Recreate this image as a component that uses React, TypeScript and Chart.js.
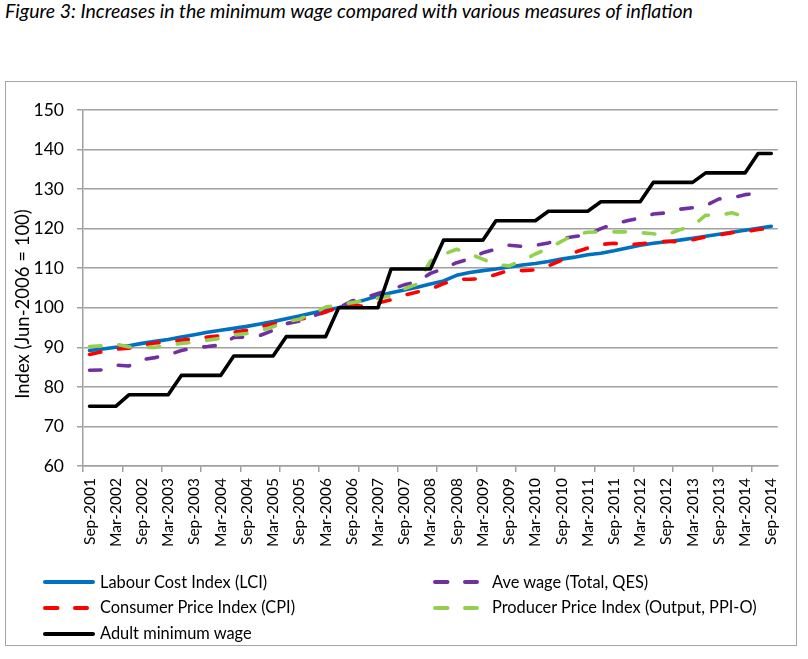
import React, { useEffect, useRef } from 'react';
import { Chart, registerables } from 'chart.js';

Chart.register(...registerables);

const quarters = [
  'Sep-2001', 'Dec-2001',
  'Mar-2002', 'Jun-2002', 'Sep-2002', 'Dec-2002',
  'Mar-2003', 'Jun-2003', 'Sep-2003', 'Dec-2003',
  'Mar-2004', 'Jun-2004', 'Sep-2004', 'Dec-2004',
  'Mar-2005', 'Jun-2005', 'Sep-2005', 'Dec-2005',
  'Mar-2006', 'Jun-2006', 'Sep-2006', 'Dec-2006',
  'Mar-2007', 'Jun-2007', 'Sep-2007', 'Dec-2007',
  'Mar-2008', 'Jun-2008', 'Sep-2008', 'Dec-2008',
  'Mar-2009', 'Jun-2009', 'Sep-2009', 'Dec-2009',
  'Mar-2010', 'Jun-2010', 'Sep-2010', 'Dec-2010',
  'Mar-2011', 'Jun-2011', 'Sep-2011', 'Dec-2011',
  'Mar-2012', 'Jun-2012', 'Sep-2012', 'Dec-2012',
  'Mar-2013', 'Jun-2013', 'Sep-2013', 'Dec-2013',
  'Mar-2014', 'Jun-2014', 'Sep-2014',
];

const lci = [
  89.2, 89.6, 90.0, 90.4, 91.0, 91.5, 92.0, 92.6, 93.2, 93.8,
  94.3, 94.8, 95.3, 95.9, 96.5, 97.2, 97.9, 98.7, 99.4, 100.0,
  101.1, 102.0, 103.0, 103.8, 104.5, 105.2, 106.0, 106.8, 108.2, 108.9,
  109.4, 109.8, 110.3, 110.8, 111.2, 111.7, 112.3, 112.8, 113.4, 113.8,
  114.4, 115.1, 115.8, 116.3, 116.7, 117.1, 117.6, 118.1, 118.6, 119.1,
  119.6, 120.1, 120.6,
];

const cpi = [
  88.2, 88.9, 89.5, 89.8, 90.5, 91.1, 91.4, 91.8, 92.2, 92.6,
  92.9, 93.8, 94.3, 95.2, 95.9, 96.6, 97.1, 97.7, 99.0, 100.0,
  100.6, 100.4, 101.2, 102.0, 103.2, 104.0, 104.7, 106.1, 107.2, 107.2,
  107.4, 108.4, 109.5, 109.4, 109.6, 110.6, 112.0, 114.0, 115.1, 116.0,
  116.3, 115.9, 116.2, 116.5, 116.8, 116.7, 117.2, 117.9, 118.4, 119.0,
  119.2, 119.8, 120.1,
];

const adultMinWage = [
  75.1, 75.1, 75.1, 78.0, 78.0, 78.0, 78.0, 82.9, 82.9, 82.9,
  82.9, 87.8, 87.8, 87.8, 87.8, 92.7, 92.7, 92.7, 92.7, 100.0,
  100.0, 100.0, 100.0, 109.8, 109.8, 109.8, 109.8, 117.1, 117.1, 117.1,
  117.1, 122.0, 122.0, 122.0, 122.0, 124.4, 124.4, 124.4, 124.4, 126.8,
  126.8, 126.8, 126.8, 131.7, 131.7, 131.7, 131.7, 134.1, 134.1, 134.1,
  134.1, 139.0, 139.0,
];

const aveWage = [
  84.2, 84.3, 85.5, 85.3, 86.9, 87.4, 88.1, 89.2, 89.9, 90.2,
  90.6, 92.5, 92.6, 93.0, 94.3, 96.0, 96.6, 97.9, 98.9, 100.0,
  101.7, 102.6, 103.6, 104.6, 105.8, 106.6, 108.7, 109.9, 111.4, 112.4,
  113.9, 114.8, 115.8, 115.5, 115.8, 116.4, 117.5, 118.0, 118.5, 120.0,
  121.2, 122.0, 122.7, 123.7, 124.0, 124.9, 125.3, 125.8, 127.5, 127.8,
  128.6, 129.0, null,
];

const ppi = [
  90.2, 90.4, 90.8, 90.1, 90.0, 90.0, 90.5, 91.0, 91.3, 91.8,
  92.3, 93.1, 93.5, 94.2, 95.2, 96.5, 97.1, 98.5, 100.2, 100.7,
  101.3, 101.8, 102.4, 103.0, 104.8, 106.0, 111.8, 113.5, 114.8, 113.6,
  112.3, 110.9, 110.6, 111.9, 113.6, 115.0, 116.8, 118.5, 119.1, 119.2,
  119.2, 119.2, 119.0, 118.7, 118.4, 119.7, 120.7, 123.4, 123.4, 124.0,
  123.0, null, null,
];

const yTicksMin = 60;
const yTicksMax = 150;
const yTickStep = 10;

const FONT = 'Lato, "Open Sans", sans-serif';
const GRID = '#a0a0a0';
const C_LCI = '#0070C0';
const C_CPI = '#FF0000';
const C_ADULT = '#000000';
const C_AVE = '#7030A0';
const C_PPI = '#92D050';
const DASH = [11.5, 18];
const Y_TITLE = 'Index (Jun-2006 = 100)';

const yTitlePlugin = {
  id: 'yTitlePlugin',
  afterDraw(chart: any) {
    const ctx = chart.ctx;
    ctx.save();
    ctx.translate(23.3, 222);
    ctx.rotate(-Math.PI / 2);
    ctx.font = `18.5px ${FONT}`;
    ctx.fillStyle = '#000';
    ctx.textAlign = 'center';
    ctx.textBaseline = 'alphabetic';
    ctx.fillText(Y_TITLE, 0, 0);
    ctx.restore();
  },
};

function LegendSample({ color, dashed }: { color: string; dashed: boolean }) {
  return (
    <svg width={60} height={10} style={{ position: 'absolute', left: 0, top: -5, overflow: 'visible' }}>
      <line
        x1={4}
        y1={5}
        x2={dashed ? 46 : 52}
        y2={5}
        stroke={color}
        strokeWidth={4}
        strokeLinecap="round"
        strokeDasharray={dashed ? '12.5 17.5' : undefined}
      />
    </svg>
  );
}

function LegendItem({ x, y, textLeft, color, dashed, label }: { x: number; y: number; textLeft: number; color: string; dashed: boolean; label: string }) {
  return (
    <div style={{ position: 'absolute', left: x, top: y, width: 400, height: 0 }}>
      <LegendSample color={color} dashed={dashed} />
      <div
        style={{
          position: 'absolute',
          left: textLeft,
          top: -10.5,
          fontFamily: FONT,
          fontSize: '16.4px',
          lineHeight: '20px',
          color: '#000',
          whiteSpace: 'nowrap',
        }}
      >
        {label}
      </div>
    </div>
  );
}

export default function App() {
  const canvasRef = useRef<HTMLCanvasElement | null>(null);

  useEffect(() => {
    if (!canvasRef.current) return;
    const chart = new Chart(canvasRef.current, {
      type: 'line',
      data: {
        labels: quarters,
        datasets: [
          { label: 'Labour Cost Index (LCI)', data: lci, borderColor: C_LCI, order: 5 },
          { label: 'Ave wage (Total, QES)', data: aveWage, borderColor: C_AVE, borderDash: DASH, order: 4 },
          { label: 'Consumer Price Index (CPI)', data: cpi, borderColor: C_CPI, borderDash: DASH, order: 3 },
          { label: 'Producer Price Index (Output, PPI-O)', data: ppi, borderColor: C_PPI, borderDash: DASH, order: 2 },
          { label: 'Adult minimum wage', data: adultMinWage, borderColor: C_ADULT, order: 1 },
        ].map((d: any) => ({
          ...d,
          borderWidth: 3.6,
          pointRadius: 0,
          pointHoverRadius: 0,
          tension: 0,
          fill: false,
          borderCapStyle: 'round',
          borderJoinStyle: 'round',
          spanGaps: false,
        })),
      },
      options: {
        animation: false,
        responsive: false,
        maintainAspectRatio: false,
        layout: { padding: { top: 28, right: 15, left: 0, bottom: 0 } },
        plugins: {
          legend: { display: false },
          title: { display: false },
          tooltip: { enabled: false },
        },
        events: [],
        scales: {
          x: {
            type: 'category',
            offset: true,
            grid: {
              offset: true,
              drawOnChartArea: false,
              drawTicks: true,
              tickLength: 6,
              lineWidth: 1.5,
              color: (c: any) => (c.index % 3 === 0 ? GRID : 'rgba(0,0,0,0)'),
              tickColor: (c: any) => (c.index % 3 === 0 ? GRID : 'rgba(0,0,0,0)'),
            },
            border: { display: true, color: GRID, width: 1.5 },
            ticks: {
              autoSkip: false,
              minRotation: 90,
              maxRotation: 90,
              padding: 6,
              color: '#000',
              font: { family: FONT, size: 15.5 },
              callback: (_v: any, i: number) => (i % 2 === 0 ? quarters[i] : ''),
            },
            afterFit: (s: any) => {
              s.height = 179;
            },
          },
          y: {
            min: yTicksMin,
            max: yTicksMax,
            ticks: {
              stepSize: yTickStep,
              padding: 13,
              color: '#000',
              font: { family: FONT, size: 17.5 },
            },
            grid: { color: GRID, lineWidth: 1.5, tickLength: 6, drawTicks: true },
            border: { display: true, color: GRID, width: 1.5 },
            afterFit: (s: any) => {
              s.width = 77;
            },
          },
        },
      } as any,
      plugins: [yTitlePlugin],
    });
    return () => chart.destroy();
  }, []);

  return (
    <div>
      <div
        style={{
          position: 'absolute',
          left: 5,
          top: -1,
          fontFamily: FONT,
          fontStyle: 'italic',
          fontSize: '19.5px',
          lineHeight: '23.4px',
          color: '#000',
          whiteSpace: 'nowrap',
        }}
      >
        Figure 3: Increases in the minimum wage compared with various measures of inflation
      </div>
      <div
        style={{
          position: 'absolute',
          left: 5,
          top: 81,
          width: 792,
          height: 565,
          border: '1px solid #a6a6a6',
          boxSizing: 'border-box',
          background: '#fff',
        }}
      />
      <canvas
        ref={canvasRef}
        width={790}
        height={563}
        style={{ position: 'absolute', left: 6, top: 82, width: 790, height: 563 }}
      />
      <LegendItem x={41} y={582} textLeft={59} color={C_LCI} dashed={false} label="Labour Cost Index (LCI)" />
      <LegendItem x={41} y={607.5} textLeft={59} color={C_CPI} dashed={true} label="Consumer Price Index (CPI)" />
      <LegendItem x={41} y={633.5} textLeft={59} color={C_ADULT} dashed={false} label="Adult minimum wage" />
      <LegendItem x={431} y={582} textLeft={61} color={C_AVE} dashed={true} label="Ave wage (Total, QES)" />
      <LegendItem x={431} y={607.5} textLeft={61} color={C_PPI} dashed={true} label="Producer Price Index (Output, PPI-O)" />
    </div>
  );
}
